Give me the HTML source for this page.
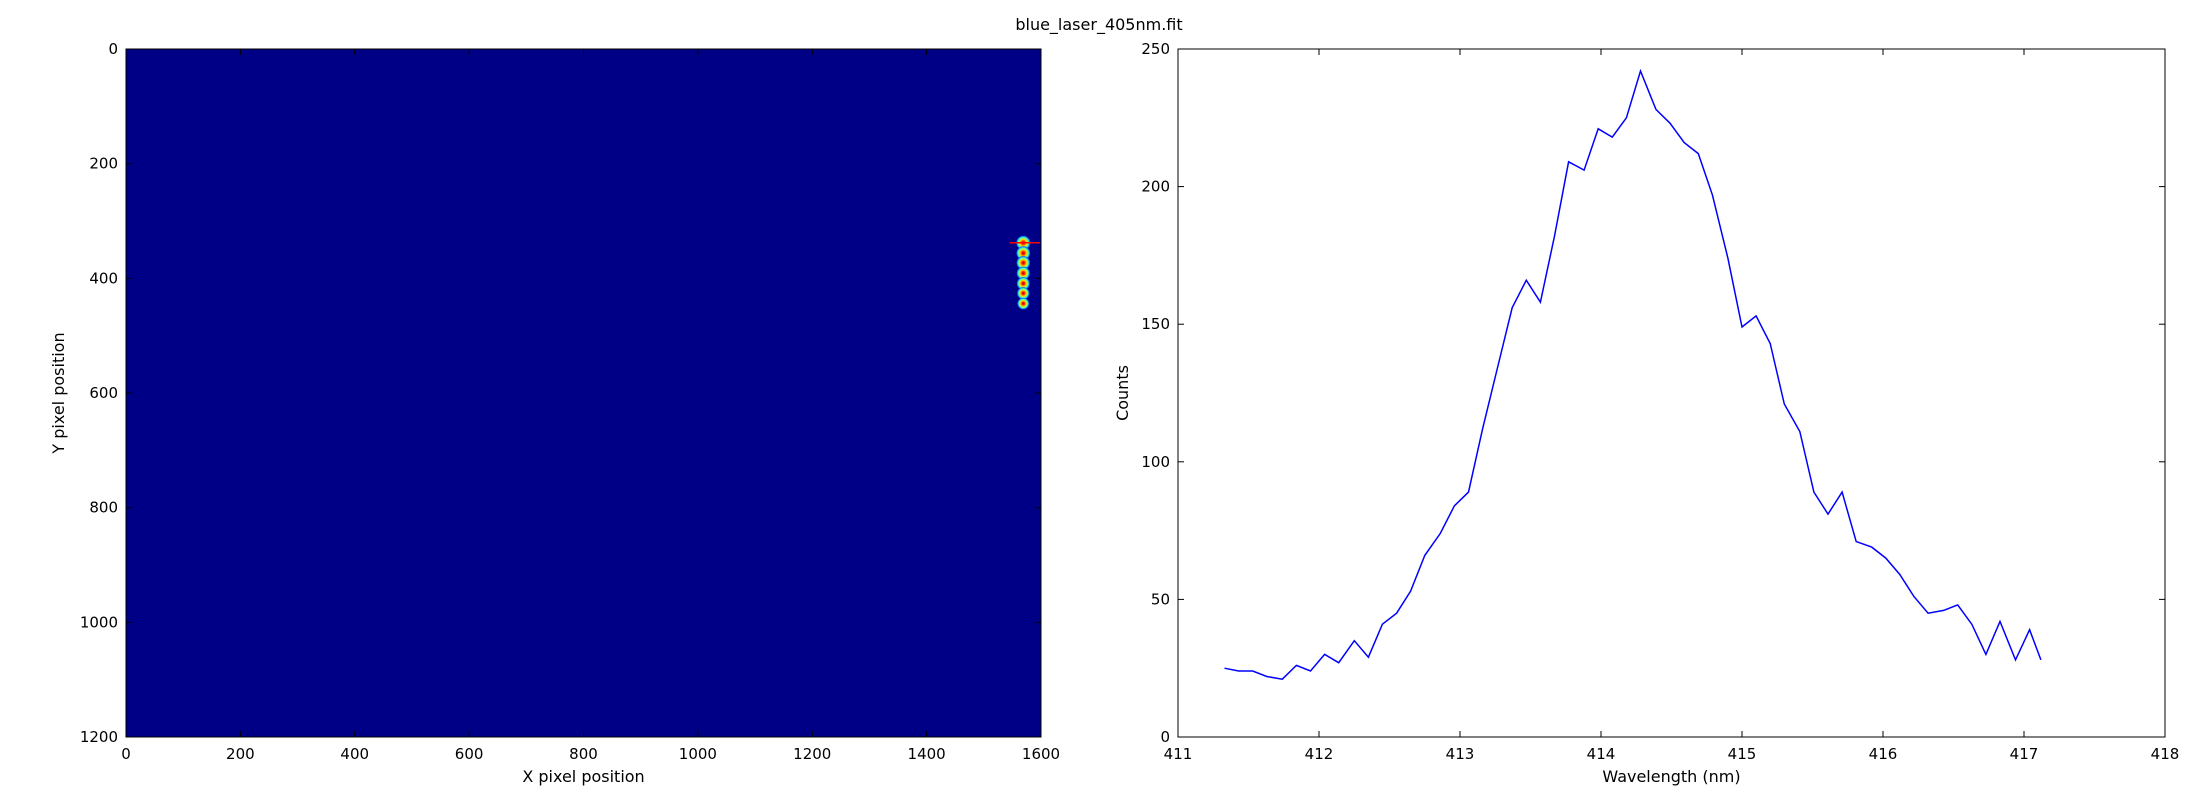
<!DOCTYPE html>
<html><head><meta charset="utf-8"><style>
html,body{margin:0;padding:0;background:#fff}
svg{display:block}
text{font-family:"DejaVu Sans","Liberation Sans",sans-serif;fill:#000}
</style></head><body>
<svg id="fig" width="2200" height="800" viewBox="0 0 2200 800" xmlns="http://www.w3.org/2000/svg">
<text x="1099" y="30" font-size="16" text-anchor="middle">blue_laser_405nm.fit</text>
<g id="left"></g>
<g id="right"></g>
</svg>
<script>
const spotX = [1569,1569,1569,1569,1569,1569,1569];
const spotY = [338,356,373,391,409,426,444];
const spotLevel = [1.0,0.95,0.9,0.85,0.8,0.7,0.6];
const imgXTicks = [0,200,400,600,800,1000,1200,1400,1600];
const imgYTicks = [0,200,400,600,800,1000,1200];
const wavelength = [411.33,411.43,411.53,411.63,411.74,411.84,411.94,412.04,412.14,412.25,412.35,412.45,412.55,412.65,412.75,412.86,412.96,413.06,413.16,413.26,413.37,413.47,413.57,413.67,413.77,413.88,413.98,414.08,414.18,414.28,414.39,414.49,414.59,414.69,414.79,414.90,415.00,415.10,415.20,415.30,415.41,415.51,415.61,415.71,415.81,415.92,416.02,416.12,416.22,416.32,416.43,416.53,416.63,416.73,416.83,416.94,417.04,417.12];
const counts = [25,24,24,22,21,26,24,30,27,35,29,41,45,53,66,74,84,89,112,133,156,166,158,182,209,206,221,218,225,242,228,223,216,212,197,174,149,153,143,121,111,89,81,89,71,69,65,59,51,45,46,48,41,30,42,28,39,28];
const specXTicks = [411,412,413,414,415,416,417,418];
const specYTicks = [0,50,100,150,200,250];

const NS='http://www.w3.org/2000/svg';
function mk(parent,tag,attrs,txt){const e=document.createElementNS(NS,tag);for(const k in attrs)e.setAttribute(k,attrs[k]);if(txt!==undefined)e.textContent=txt;parent.appendChild(e);return e;}

// left panel
const L={x0:126,x1:1041,y0:49,y1:737};
const lx=v=>L.x0+(v-0)/1600*(L.x1-L.x0);
const ly=v=>L.y0+(v-0)/1200*(L.y1-L.y0);
const left=document.getElementById('left');
const defs=mk(left,'defs',{});
const rg=mk(defs,'radialGradient',{id:'jet'});
[['0','#a00000'],['0.25','#ff3000'],['0.5','#ffe000'],['0.75','#40ffc0'],['1','#0040ff']].forEach(s=>mk(rg,'stop',{offset:s[0],'stop-color':s[1]}));
const bg=mk(left,'rect',{x:L.x0,y:L.y0,width:L.x1-L.x0,height:L.y1-L.y0,fill:'#000086'});


for(let i=0;i<spotX.length;i++){
  const c=mk(left,'circle',{cx:lx(spotX[i]),cy:ly(spotY[i]),r:4+3*spotLevel[i],fill:'url(#jet)'});
  
  
}
const rl=mk(left,'line',{x1:lx(1545),x2:lx(1598),y1:ly(spotY[0]),y2:ly(spotY[0]),stroke:'#ff0000','stroke-width':1.5});


const lf=mk(left,'rect',{x:L.x0,y:L.y0,width:L.x1-L.x0,height:L.y1-L.y0,fill:'none',stroke:'#000','stroke-width':1});


imgXTicks.forEach(v=>{const x=lx(v);
  mk(left,'line',{x1:x,x2:x,y1:L.y1,y2:L.y1-6,stroke:'#000'});
  mk(left,'line',{x1:x,x2:x,y1:L.y0,y2:L.y0+6,stroke:'#000'});
  const t=mk(left,'text',{x:x,y:L.y1+22,'font-size':15,'text-anchor':'middle'},v);
  
  
});
imgYTicks.forEach(v=>{const y=ly(v);
  mk(left,'line',{x1:L.x0,x2:L.x0+6,y1:y,y2:y,stroke:'#000'});
  mk(left,'line',{x1:L.x1,x2:L.x1-6,y1:y,y2:y,stroke:'#000'});
  const t=mk(left,'text',{x:L.x0-8,y:y+5,'font-size':15,'text-anchor':'end'},v);
  
  
});
const lxt=mk(left,'text',{x:(L.x0+L.x1)/2,y:782,'font-size':16,'text-anchor':'middle'},'X pixel position');


const lyt=mk(left,'text',{x:0,y:0,'font-size':16,'text-anchor':'middle',transform:`translate(64,${(L.y0+L.y1)/2}) rotate(-90)`},'Y pixel position');



// right panel
const R={x0:1178,x1:2165,y0:49,y1:737};
const rx=v=>R.x0+(v-411)/7*(R.x1-R.x0);
const ry=v=>R.y1-(v/250)*(R.y1-R.y0);
const right=document.getElementById('right');
const rf=mk(right,'rect',{x:R.x0,y:R.y0,width:R.x1-R.x0,height:R.y1-R.y0,fill:'#fff',stroke:'#000','stroke-width':1});


const pts=wavelength.map((w,i)=>rx(w).toFixed(1)+','+ry(counts[i]).toFixed(1)).join(' ');
const pl=mk(right,'polyline',{points:pts,fill:'none',stroke:'#0000ff','stroke-width':1.5});


specXTicks.forEach(v=>{const x=rx(v);
  mk(right,'line',{x1:x,x2:x,y1:R.y1,y2:R.y1-6,stroke:'#000'});
  mk(right,'line',{x1:x,x2:x,y1:R.y0,y2:R.y0+6,stroke:'#000'});
  const t=mk(right,'text',{x:x,y:R.y1+22,'font-size':15,'text-anchor':'middle'},v);
  
  
});
specYTicks.forEach(v=>{const y=ry(v);
  mk(right,'line',{x1:R.x0,x2:R.x0+6,y1:y,y2:y,stroke:'#000'});
  mk(right,'line',{x1:R.x1,x2:R.x1-6,y1:y,y2:y,stroke:'#000'});
  const t=mk(right,'text',{x:R.x0-8,y:y+5,'font-size':15,'text-anchor':'end'},v);
  
  
});
const rxt=mk(right,'text',{x:(R.x0+R.x1)/2,y:782,'font-size':16,'text-anchor':'middle'},'Wavelength (nm)');


const ryt=mk(right,'text',{x:0,y:0,'font-size':16,'text-anchor':'middle',transform:`translate(1128,${(R.y0+R.y1)/2}) rotate(-90)`},'Counts');


</script>
</body></html>
